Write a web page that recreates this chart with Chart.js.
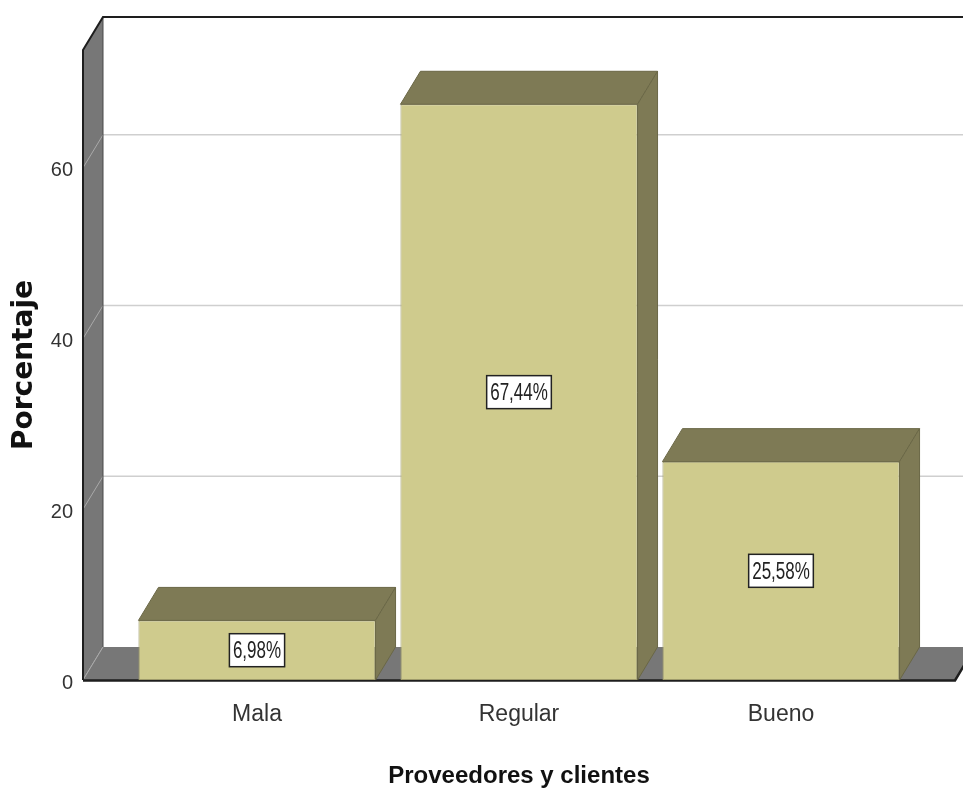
<!DOCTYPE html>
<html>
<head>
<meta charset="utf-8">
<script src="https://cdn.jsdelivr.net/npm/chart.js@4.4.1/dist/chart.umd.min.js"></script>
<style>
  body { margin: 0; background: #fff; }
</style>
</head>
<body>
<canvas id="grafico" width="963" height="792"></canvas>
<script>
// datos
const categorias = ['Mala', 'Regular', 'Bueno']
const porcentajes = [6.98, 67.44, 25.58]
const etiquetas = ['6,98%', '67,44%', '25,58%']
const marcasY = [0, 20, 40, 60]

// profundidad del efecto 3D
const DX = 20
const DY = 33
const ALA = 43

const fuente = "'Liberation Sans', Arial, sans-serif"

const caja3d = {
  id: 'caja3d',
  beforeDatasetsDraw(chart) {
    const ctx = chart.ctx
    const a = chart.chartArea
    const y = chart.scales.y
    const fl = a.left - ALA
    const fr = a.right + ALA
    const ft = a.top
    const fb = y.getPixelForValue(0)

    ctx.save()
    // pared izquierda
    ctx.fillStyle = '#777777'
    ctx.beginPath()
    ctx.moveTo(fl, ft)
    ctx.lineTo(fl + DX, ft - DY)
    ctx.lineTo(fl + DX, fb - DY)
    ctx.lineTo(fl, fb)
    ctx.closePath()
    ctx.fill()

    // lineas de la cuadricula
    marcasY.forEach(v => {
      const py = y.getPixelForValue(v)
      ctx.strokeStyle = '#a9a9a9'
      ctx.lineWidth = 1
      ctx.beginPath()
      ctx.moveTo(fl, py)
      ctx.lineTo(fl + DX, py - DY)
      ctx.stroke()
      if (v > 0) {
        ctx.strokeStyle = '#cfcfcf'
        ctx.lineWidth = 1.5
        ctx.beginPath()
        ctx.moveTo(fl + DX, py - DY)
        ctx.lineTo(fr + DX + 20, py - DY)
        ctx.stroke()
      }
    })

    // piso
    ctx.fillStyle = '#777777'
    ctx.beginPath()
    ctx.moveTo(fl, fb)
    ctx.lineTo(fr, fb)
    ctx.lineTo(fr + DX, fb - DY)
    ctx.lineTo(fl + DX, fb - DY)
    ctx.closePath()
    ctx.fill()
    ctx.strokeStyle = '#a9a9a9'
    ctx.lineWidth = 1
    ctx.beginPath()
    ctx.moveTo(fl, fb)
    ctx.lineTo(fl + DX, fb - DY)
    ctx.stroke()

    // bordes
    ctx.strokeStyle = '#4a4a4a'
    ctx.lineWidth = 1
    ctx.beginPath()
    ctx.moveTo(fl + DX, ft - DY)
    ctx.lineTo(fl + DX, fb - DY)
    ctx.stroke()

    ctx.strokeStyle = '#1e1e1e'
    ctx.lineWidth = 2
    ctx.beginPath()
    ctx.moveTo(fl, fb)
    ctx.lineTo(fl, ft)
    ctx.lineTo(fl + DX, ft - DY)
    ctx.lineTo(fr + DX + 20, ft - DY)
    ctx.stroke()

    ctx.lineWidth = 2.5
    ctx.beginPath()
    ctx.moveTo(fl, fb + 0.5)
    ctx.lineTo(fr, fb + 0.5)
    ctx.lineTo(fr + DX, fb - DY)
    ctx.stroke()
    ctx.restore()
  },
  afterDatasetsDraw(chart) {
    const ctx = chart.ctx
    const y = chart.scales.y
    const meta = chart.getDatasetMeta(0)
    ctx.save()
    meta.data.forEach((bar, i) => {
      const p = bar.getProps(['x', 'y', 'base', 'width'], true)
      const izq = p.x - p.width / 2
      const der = p.x + p.width / 2
      ctx.fillStyle = '#7e7a55'
      ctx.strokeStyle = '#6a6746'
      ctx.lineWidth = 1
      // cara superior
      ctx.beginPath()
      ctx.moveTo(izq, p.y)
      ctx.lineTo(izq + DX, p.y - DY)
      ctx.lineTo(der + DX, p.y - DY)
      ctx.lineTo(der, p.y)
      ctx.closePath()
      ctx.fill()
      ctx.stroke()
      // cara lateral
      ctx.beginPath()
      ctx.moveTo(der, p.y)
      ctx.lineTo(der + DX, p.y - DY)
      ctx.lineTo(der + DX, p.base - DY)
      ctx.lineTo(der, p.base)
      ctx.closePath()
      ctx.fill()
      ctx.stroke()

      // etiqueta del valor
      const cy = y.getPixelForValue(porcentajes[i] / 2)
      ctx.font = '17px ' + fuente
      const w = ctx.measureText(etiquetas[i]).width + 7
      const h = 33
      ctx.fillStyle = '#ffffff'
      ctx.fillRect(p.x - w / 2, cy - h / 2, w, h)
      ctx.strokeStyle = '#222222'
      ctx.lineWidth = 1.5
      ctx.strokeRect(p.x - w / 2, cy - h / 2, w, h)
      ctx.save()
      ctx.translate(p.x, cy + 1)
      ctx.scale(1, 1.45)
      ctx.fillStyle = '#222222'
      ctx.textAlign = 'center'
      ctx.textBaseline = 'middle'
      ctx.fillText(etiquetas[i], 0, 0)
      ctx.restore()
    })
    ctx.restore()
  }
}

const ctx = document.getElementById('grafico')

const data = {
  labels: categorias,
  datasets: [{
    data: porcentajes,
    backgroundColor: '#cfcb8d',
    borderColor: '#9e9a6a',
    borderWidth: 1,
    borderSkipped: false,
    categoryPercentage: 1,
    barPercentage: 0.905
  }]
}

const config = {
  type: 'bar',
  data: data,
  options: {
    responsive: false,
    animation: false,
    devicePixelRatio: 1,
    layout: { padding: { top: 50, right: 51, left: 0, bottom: 0 } },
    plugins: {
      legend: { display: false },
      tooltip: { enabled: false }
    },
    scales: {
      x: {
        grid: { display: false, drawTicks: false },
        border: { display: false },
        ticks: {
          padding: 21,
          color: '#333333',
          font: { family: fuente, size: 23 }
        },
        title: {
          display: true,
          text: 'Proveedores y clientes',
          color: '#111111',
          padding: { top: 0, bottom: 4 },
          font: { family: fuente, size: 24, weight: 'bold', lineHeight: 1 }
        },
        afterFit(scale) { scale.height = 112 }
      },
      y: {
        min: 0,
        max: 73.8,
        grid: { display: false, drawTicks: false },
        border: { display: false },
        afterBuildTicks(scale) {
          scale.ticks = marcasY.map(v => ({ value: v }))
        },
        ticks: {
          padding: 53,
          labelOffset: 3,
          color: '#333333',
          font: { family: fuente, size: 20 }
        },
        title: {
          display: true,
          text: 'Porcentaje',
          color: '#111111',
          padding: { top: 8, bottom: 0 },
          font: { family: "'DejaVu Sans', sans-serif", size: 28, weight: 'bold' }
        },
        afterFit(scale) {
          scale.width = 126
          scale.paddingTop = 0
          scale.paddingBottom = 0
        }
      }
    }
  },
  plugins: [caja3d]
}

const myChart = new Chart(ctx, config)
</script>
</body>
</html>
